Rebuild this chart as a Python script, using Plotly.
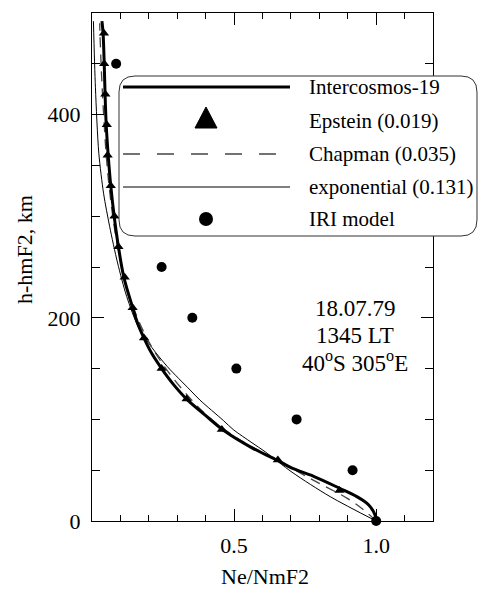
"""
Perfil normalizado de densidad electrónica sobre hmF2 (Intercosmos-19, 18.07.79)
comparado con los ajustes Epstein, Chapman, exponencial y el modelo IRI.
"""

import plotly.graph_objects as go

# ──────────────────────────────────────────────
#  Datos
# ──────────────────────────────────────────────
ic19_h = [0, 6, 16, 24, 32, 44, 52, 60, 72, 88, 105, 120, 135, 150, 165, 180, 195, 210,
          240, 270, 300, 330, 360, 390, 420, 450, 480, 492]
ic19_x = [1.0, 0.996, 0.973, 0.932, 0.873, 0.78, 0.704, 0.651, 0.563, 0.469, 0.395, 0.333,
          0.285, 0.245, 0.21, 0.183, 0.16, 0.143, 0.112, 0.093, 0.078, 0.066, 0.057, 0.05,
          0.046, 0.043, 0.039, 0.035]

epstein_h = [30, 60, 90, 120, 150, 180, 210, 240, 270, 300, 330, 360, 390, 420, 450, 480]
epstein_x = [0.871, 0.654, 0.457, 0.333, 0.245, 0.183, 0.143, 0.115, 0.093, 0.079, 0.066,
             0.055, 0.052, 0.047, 0.043, 0.042]

chapman_h = [0, 10, 22, 40, 60, 80, 100, 120, 150, 180, 210, 240, 270, 300, 330, 360, 390,
             420, 450, 480, 490]
chapman_x = [1.0, 0.96, 0.9, 0.78, 0.65, 0.52, 0.42, 0.348, 0.26, 0.193, 0.146, 0.113,
             0.09, 0.073, 0.06, 0.05, 0.043, 0.037, 0.032, 0.028, 0.027]

expo_h = [0, 24, 48, 68, 77, 90, 99, 119, 129, 152, 171, 191, 221, 254, 290, 322, 362,
          427, 492]
expo_x = [1.0, 0.838, 0.704, 0.61, 0.563, 0.497, 0.462, 0.38, 0.345, 0.265, 0.21, 0.163,
          0.122, 0.09, 0.062, 0.041, 0.024, 0.012, 0.005]

iri_h = [0, 50, 100, 150, 200, 250, 450]
iri_x = [1.0, 0.917, 0.72, 0.508, 0.353, 0.245, 0.085]

x_tick_vals = [0.5, 1.0]
x_tick_text = ["0.5", "1.0"]
x_minor_vals = [0.1, 0.2, 0.3, 0.4, 0.6, 0.7, 0.8, 0.9, 1.1]
y_tick_vals = [0, 200, 400]
y_tick_text = ["0", "200", "400"]

legend_labels = ["Intercosmos-19", "Epstein (0.019)", "Chapman (0.035)",
                 "exponential (0.131)", "IRI model"]
info_lines = ["18.07.79", "1345 LT", "40<sup>o</sup>S 305<sup>o</sup>E"]

# ──────────────────────────────────────────────
#  Geometría (px) del área de trazado
# ──────────────────────────────────────────────
W, H = 478, 590
L, R, T, B = 92, 433, 13, 521
FONT = "Liberation Serif, Times New Roman, serif"


def px(xp, yp):
    """Píxeles de la imagen → coordenadas paper."""
    return (xp - L) / (R - L), (B - yp) / (B - T)


def rounded_box(x0, y0, x1, y1, r):
    """Path SVG (paper) de un rectángulo con esquinas redondeadas."""
    def p(a, b):
        u, v = px(a, b)
        return f"{u:.5f},{v:.5f}"
    return (f"M{p(x0 + r, y0)} L{p(x1 - r, y0)} Q{p(x1, y0)} {p(x1, y0 + r)} "
            f"L{p(x1, y1 - r)} Q{p(x1, y1)} {p(x1 - r, y1)} "
            f"L{p(x0 + r, y1)} Q{p(x0, y1)} {p(x0, y1 - r)} "
            f"L{p(x0, y0 + r)} Q{p(x0, y0)} {p(x0 + r, y0)} Z")


fig = go.Figure()

fig.add_trace(go.Scatter(x=expo_x, y=expo_h, mode="lines", line_shape="spline",
                         line=dict(color="black", width=1, smoothing=0.8)))
fig.add_trace(go.Scatter(x=chapman_x, y=chapman_h, mode="lines", line_shape="spline",
                         line=dict(color="#444", width=1.3, dash="10px,7px")))
fig.add_trace(go.Scatter(x=ic19_x, y=ic19_h, mode="lines", line_shape="spline",
                         line=dict(color="black", width=3)))
fig.add_trace(go.Scatter(x=epstein_x, y=epstein_h, mode="markers",
                         marker=dict(symbol="triangle-up", size=9, color="black")))
fig.add_trace(go.Scatter(x=iri_x, y=iri_h, mode="markers", cliponaxis=False,
                         marker=dict(symbol="circle", size=10, color="black")))

# ── Leyenda dibujada a mano (caja redondeada) ──
shapes = [dict(type="path", xref="paper", yref="paper", layer="above",
               path=rounded_box(119, 76, 477, 236, 16),
               fillcolor="white", line=dict(color="#333", width=1))]

rows_y = [87, 121, 154, 187, 219]
sx0, sx1 = 123, 290

u0, v = px(sx0, rows_y[0]); u1, _ = px(sx1, rows_y[0])
shapes.append(dict(type="line", xref="paper", yref="paper", layer="above",
                   x0=u0, x1=u1, y0=v, y1=v, line=dict(color="black", width=3)))
a, b = px(195, 128); c, d = px(217, 128); e, f = px(206, 107)
shapes.append(dict(type="path", xref="paper", yref="paper", layer="above",
                   path=f"M{a},{b} L{c},{d} L{e},{f} Z",
                   fillcolor="black", line=dict(color="black", width=1)))
u0, v = px(sx0, rows_y[2]); u1, _ = px(sx1, rows_y[2])
shapes.append(dict(type="line", xref="paper", yref="paper", layer="above",
                   x0=u0, x1=u1, y0=v, y1=v,
                   line=dict(color="#444", width=1.3, dash="17px,17px")))
u0, v = px(sx0, rows_y[3]); u1, _ = px(sx1, rows_y[3])
shapes.append(dict(type="line", xref="paper", yref="paper", layer="above",
                   x0=u0, x1=u1, y0=v, y1=v, line=dict(color="black", width=1)))
a, b = px(199, rows_y[4] + 7); c, d = px(213, rows_y[4] - 7)
shapes.append(dict(type="circle", xref="paper", yref="paper", layer="above",
                   x0=a, x1=c, y0=b, y1=d, fillcolor="black", line=dict(width=0)))

annotations = []
for label, yr in zip(legend_labels, rows_y):
    u, v = px(307, yr)
    annotations.append(dict(xref="paper", yref="paper", x=u, y=v, text=label,
                            showarrow=False, xanchor="left", yanchor="middle",
                            font=dict(family=FONT, size=21, color="black")))

for line, yr in zip(info_lines, [308, 335, 361]):
    u, v = px(355, yr)
    annotations.append(dict(xref="paper", yref="paper", x=u, y=v, text=line,
                            showarrow=False, xanchor="center", yanchor="middle",
                            font=dict(family=FONT, size=23, color="black")))

# ── Títulos de ejes ──
u, v = px(25, 250)
annotations.append(dict(xref="paper", yref="paper", x=u, y=v, text="h-hmF2, km",
                        textangle=-90, showarrow=False, xanchor="center", yanchor="middle",
                        font=dict(family=FONT, size=22, color="black")))
u, v = px(265, 576)
annotations.append(dict(xref="paper", yref="paper", x=u, y=v, text="Ne/NmF2",
                        showarrow=False, xanchor="center", yanchor="middle",
                        font=dict(family=FONT, size=22, color="black")))

fig.update_layout(
    width=W, height=H,
    margin=dict(l=L, r=W - R, t=T, b=H - B),
    paper_bgcolor="white", plot_bgcolor="white",
    showlegend=False,
    font=dict(family=FONT, size=22, color="black"),
    shapes=shapes,
    annotations=annotations,
    xaxis=dict(
        range=[0, 1.2], showgrid=False, zeroline=False,
        showline=True, linecolor="black", linewidth=1.2, mirror="ticks",
        ticks="inside", ticklen=12, tickwidth=1.2, tickcolor="black",
        tickmode="array", tickvals=x_tick_vals, ticktext=x_tick_text,
        minor=dict(tickmode="array", tickvals=x_minor_vals, ticks="inside", ticklen=6,
                   tickcolor="black", tickwidth=1, showgrid=False),
        ticklabelstandoff=4,
    ),
    yaxis=dict(
        range=[0, 500], showgrid=False, zeroline=False,
        showline=True, linecolor="black", linewidth=1.2, mirror="ticks",
        ticks="inside", ticklen=12, tickwidth=1.2, tickcolor="black",
        tickmode="array", tickvals=y_tick_vals, ticktext=y_tick_text,
        minor=dict(dtick=50, tick0=0, ticks="inside", ticklen=8, tickcolor="black",
                   tickwidth=1, showgrid=False),
        ticklabelstandoff=6,
    ),
)

# sin margen del <body> para que la figura quede alineada con la ventana
fig.write_html("out.html", config={"displayModeBar": False},
               post_script="document.body.style.margin='0';")
